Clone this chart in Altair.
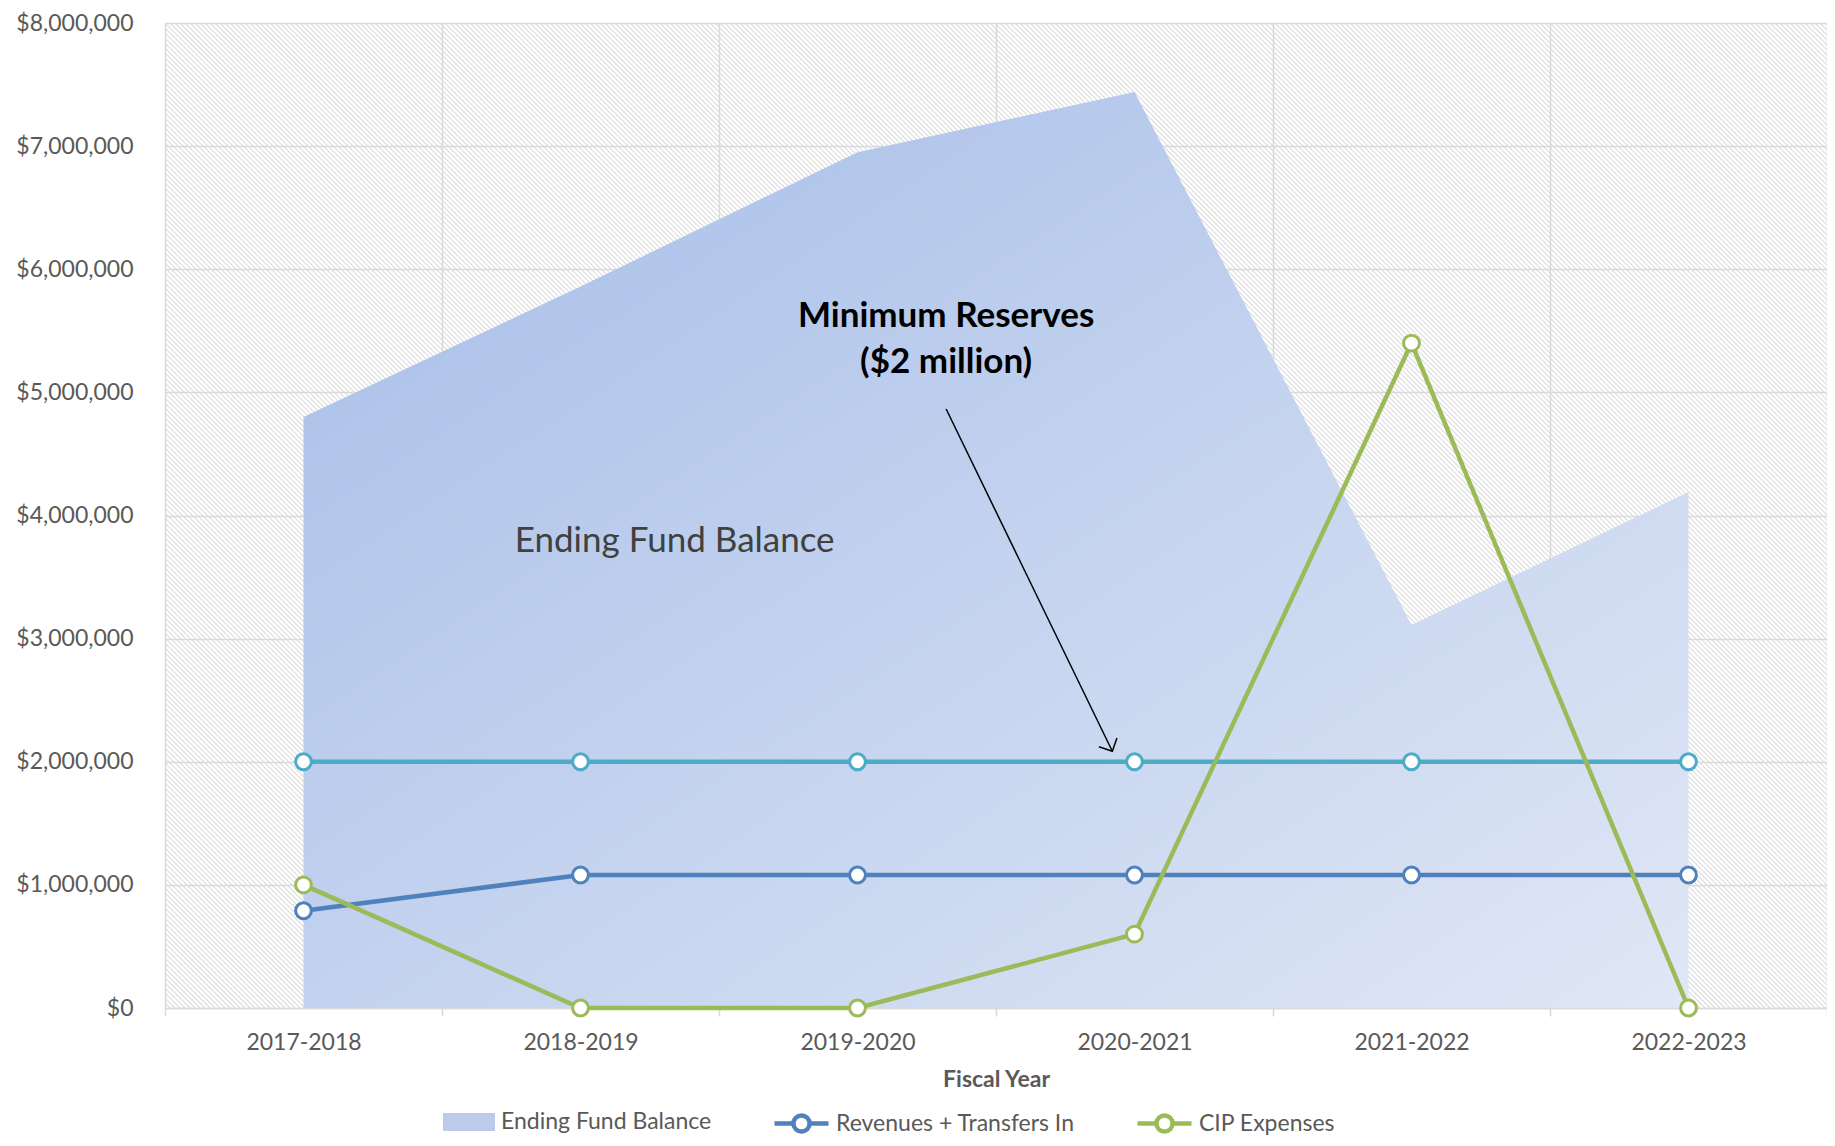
import json
import numpy as np
import pandas as pd
import altair as alt

# ---- data ----
years = ["2017-2018", "2018-2019", "2019-2020", "2020-2021", "2021-2022", "2022-2023"]
ending_fund_balance = [4800000, 5860000, 6950000, 7440000, 3110000, 4190000]
revenues_transfers = [790000, 1080000, 1080000, 1080000, 1080000, 1080000]
cip_expenses = [1000000, 0, 0, 600000, 5400000, 0]
minimum_reserves = [2000000, 2000000, 2000000, 2000000, 2000000, 2000000]
y_ticks = [0, 1000000, 2000000, 3000000, 4000000, 5000000, 6000000, 7000000, 8000000]

W, H = 1662, 985
BAND = W / len(years)

df = pd.DataFrame({
    "year": years,
    "pos": [i + 0.5 for i in range(len(years))],
    "efb": ending_fund_balance,
    "rev": revenues_transfers,
    "cip": cip_expenses,
    "minres": minimum_reserves,
})
df["s_efb"] = "Ending Fund Balance"
df["s_rev"] = "Revenues + Transfers In"
df["s_cip"] = "CIP Expenses"

# decorative hatch texture of the plot background
run = H / BAND
hatch = pd.DataFrame({"t": np.arange(-run, len(years) + 0.05, 5.0 / BAND)})
hatch["t2"] = hatch["t"] + run
hatch["top"] = 8000000
hatch["bot"] = 0

annot_efb = pd.DataFrame({"pos": [1.84], "val": [3790000], "txt": ["Ending Fund Balance"]})
annot_min = pd.DataFrame({"pos": [2.82, 2.82], "val": [5620000, 5250000],
                          "txt": ["Minimum Reserves", "($2 million)"]})
arrow = pd.DataFrame({"pos": [2.82], "val": [4865000], "pos2": [3.42], "val2": [2085000]})

FONT = "Lato"
GRID = "#d9d9d9"
TXT = "#595959"

xscale = alt.Scale(domain=[0, len(years)], nice=False, zero=False)
yscale = alt.Scale(domain=[0, 8000000], nice=False)

label_expr = json.dumps(years) + "[datum.value] || ''"
xaxis = alt.Axis(values=list(range(len(years) + 1)), labelExpr=label_expr,
                 labelOffset=BAND / 2, labelFlush=False, labelOverlap=False, labelBound=False,
                 grid=True, gridColor=GRID, gridWidth=1.5,
                 domainColor=GRID, domainWidth=1.5, tickColor=GRID, tickWidth=1.5, tickSize=8,
                 labelFontSize=23, labelColor=TXT, labelFont=FONT, labelPadding=15,
                 title="Fiscal Year", titleFontSize=23, titleFontWeight="bold", titleColor=TXT,
                 titleFont=FONT, titlePadding=14)
yaxis = alt.Axis(values=y_ticks, format="$,.0f", grid=True, gridColor=GRID, gridWidth=1.5,
                 ticks=False, domain=False, labelFontSize=23, labelColor=TXT, labelFont=FONT,
                 labelPadding=32, labelFlush=False, title=None)

def X(field):
    return alt.X(field, type="quantitative", scale=xscale, axis=xaxis)

def Y(field):
    return alt.Y(field, type="quantitative", scale=yscale, axis=yaxis)

base = alt.Chart(df)

hatch_layer = alt.Chart(hatch).mark_rule(clip=True, color="#dadada", strokeWidth=1.1).encode(
    x=X("t"), x2="t2", y=Y("top"), y2="bot")

area = base.mark_area(
    color=alt.Gradient(gradient="linear", x1=0, y1=0, x2=1, y2=1,
                       stops=[alt.GradientStop(color="#a6bde8", offset=0),
                              alt.GradientStop(color="#e0e7f5", offset=1)])
).encode(x=X("pos"), y=Y("efb"))

area_legend = base.mark_area(opacity=0).encode(
    x=X("pos"), y=Y("efb"),
    fill=alt.Fill("s_efb:N", scale=alt.Scale(domain=["Ending Fund Balance"], range=["#bccbec"]),
                  legend=alt.Legend(orient="none", legendX=278, legendY=1073, title=None,
                                    symbolType="M-1,-0.35H1V0.35H-1Z", symbolSize=2704,
                                    symbolOpacity=1, symbolStrokeWidth=0, labelOffset=6,
                                    labelLimit=0,
                                    labelFontSize=23, labelColor=TXT, labelFont=FONT)))

def line_legend(x):
    return alt.Legend(orient="none", legendX=x, legendY=1071, title=None,
                      symbolType="M-1,0H-0.3M0.3,0H1M0.3,0A0.3,0.3,0,1,1,-0.3,0A0.3,0.3,0,1,1,0.3,0",
                      symbolSize=2916, symbolStrokeWidth=4.5, symbolFillColor="white",
                      symbolOpacity=1, labelOffset=5, labelLimit=0,
                      labelFontSize=23, labelColor=TXT, labelFont=FONT)

min_line = base.mark_line(color="#4bacc6", strokeWidth=4.5).encode(x=X("pos"), y=Y("minres"))
rev_line = base.mark_line(strokeWidth=4.5).encode(
    x=X("pos"), y=Y("rev"),
    stroke=alt.Stroke("s_rev:N", scale=alt.Scale(domain=["Revenues + Transfers In"], range=["#4f81bd"]),
                      legend=line_legend(607)))
cip_line = base.mark_line(strokeWidth=4.5).encode(
    x=X("pos"), y=Y("cip"),
    stroke=alt.Stroke("s_cip:N", scale=alt.Scale(domain=["CIP Expenses"], range=["#9bbb59"]),
                      legend=line_legend(970)))

def pts(field, col):
    return base.mark_point(shape="circle", filled=True, fill="white", stroke=col,
                           strokeWidth=3, size=250, opacity=1).encode(x=X("pos"), y=Y(field))

txt_efb = alt.Chart(annot_efb).mark_text(font=FONT, fontSize=35, color="#404040").encode(
    x=X("pos"), y=Y("val"), text="txt:N")
txt_min = alt.Chart(annot_min).mark_text(font=FONT, fontSize=35, fontWeight="bold", color="black").encode(
    x=X("pos"), y=Y("val"), text="txt:N")
arrow_line = alt.Chart(arrow).mark_rule(color="black", strokeWidth=1.5).encode(
    x=X("pos"), y=Y("val"), x2="pos2", y2="val2")
arrow_head = alt.Chart(arrow).mark_point(shape="M-1,1L0,0L1,1", filled=False, color="black",
                                         strokeWidth=1.5, size=400, angle=154, opacity=1).encode(
    x=X("pos2"), y=Y("val2"))

chart = alt.layer(
    hatch_layer, area, area_legend, min_line, rev_line, cip_line,
    pts("minres", "#4bacc6"), pts("rev", "#4f81bd"), pts("cip", "#9bbb59"),
    txt_efb, txt_min, arrow_line, arrow_head,
).resolve_scale(stroke="independent", fill="independent").properties(
    width=W, height=H,
    autosize=alt.AutoSizeParams(type="none"),
    padding={"left": 157, "top": 15, "right": 0, "bottom": 130},
).configure_view(stroke=None).configure(font=FONT)

chart.save("out.html", embed_options={"renderer": "svg", "actions": False})
